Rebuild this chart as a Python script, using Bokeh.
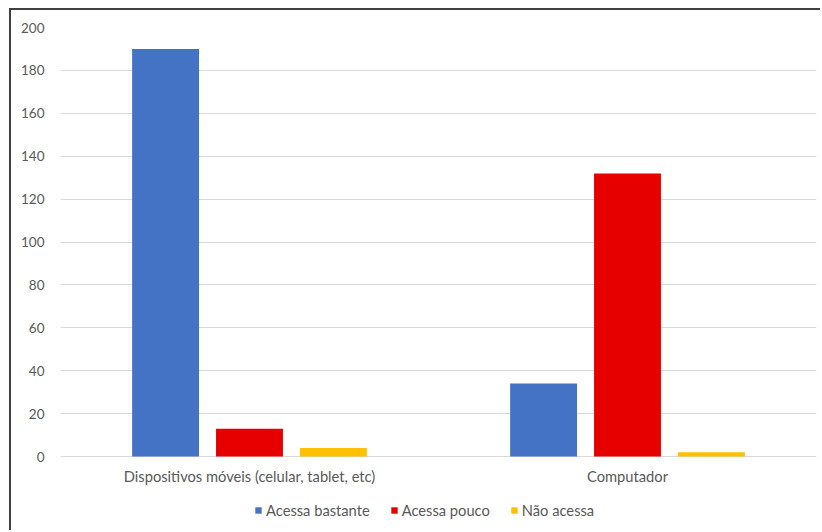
from bokeh.plotting import figure
from bokeh.models import FactorRange, Legend, LegendItem, ColumnDataSource, FixedTicker
from bokeh.core.properties import value
from bokeh.transform import dodge
from bokeh.embed import file_html
from bokeh.resources import INLINE

# Access by device type
categories = ["Dispositivos móveis (celular, tablet, etc)", "Computador"]
series = ["Acessa bastante", "Acessa pouco", "Não acessa"]
acessa_bastante = [190, 34]
acessa_pouco = [13, 132]
nao_acessa = [4, 2]
y_ticks = [0, 20, 40, 60, 80, 100, 120, 140, 160, 180, 200]
colors = ["#4472C4", "#E60000", "#FFC000"]

source = ColumnDataSource(data=dict(
    cat=categories,
    bastante=acessa_bastante,
    pouco=acessa_pouco,
    nao=nao_acessa,
))

FONT = "Lato"
TXT = "#595959"
GRID = "#D9D9D9"

# the plot area runs below zero to leave room for category names and legend
Y_BOTTOM = -35.4
LABEL_Y = -8.9

p = figure(
    x_range=FactorRange(*categories, range_padding=0),
    y_range=(Y_BOTTOM, 200),
    width=811, height=522,
    output_backend="svg",
    toolbar_location=None,
    min_border_left=49, min_border_right=6,
    min_border_top=17, min_border_bottom=0,
)
# dark edge on the left and top of the chart area
p.styles = {
    "margin-left": "9px",
    "margin-top": "8px",
    "border-left": "2px solid #404040",
    "border-top": "2px solid #404040",
}
p.outline_line_color = None
p.background_fill_color = "white"
p.border_fill_color = "white"

offsets = [-0.222, 0.0, 0.222]
fields = ["bastante", "pouco", "nao"]
renderers = []
for off, fld, col in zip(offsets, fields, colors):
    r = p.vbar(x=dodge("cat", off, range=p.x_range), top=fld, bottom=0, width=0.177,
               source=source, fill_color=col, line_color=None)
    renderers.append(r)

# category names under the zero line
p.text(x=categories, y=[LABEL_Y] * len(categories), text=categories,
       text_font=value(FONT), text_font_size="14.7px", text_color=TXT,
       text_align="center", text_baseline="middle")

p.xaxis.visible = False
p.yaxis.ticker = FixedTicker(ticks=y_ticks)
p.yaxis.axis_line_color = None
p.yaxis.major_tick_line_color = None
p.yaxis.minor_tick_line_color = None
p.yaxis.major_label_text_font = FONT
p.yaxis.major_label_text_font_size = "13.5px"
p.yaxis.major_label_text_color = TXT
p.yaxis.major_label_standoff = 10

p.xgrid.grid_line_color = None
p.ygrid.ticker = FixedTicker(ticks=y_ticks)
p.ygrid.grid_line_color = GRID
p.ygrid.grid_line_width = 1

legend = Legend(
    items=[LegendItem(label=s, renderers=[r]) for s, r in zip(series, renderers)],
    orientation="horizontal",
    location=(194, 13),
    border_line_color=None,
    background_fill_alpha=0,
    label_text_font=FONT,
    label_text_font_size="14.7px",
    label_text_color=TXT,
    glyph_width=8, glyph_height=8,
    label_standoff=4,
    spacing=20,
    padding=4,
    margin=0,
)
p.add_layout(legend, "center")

open("out.html", "w").write(file_html(p, INLINE))
